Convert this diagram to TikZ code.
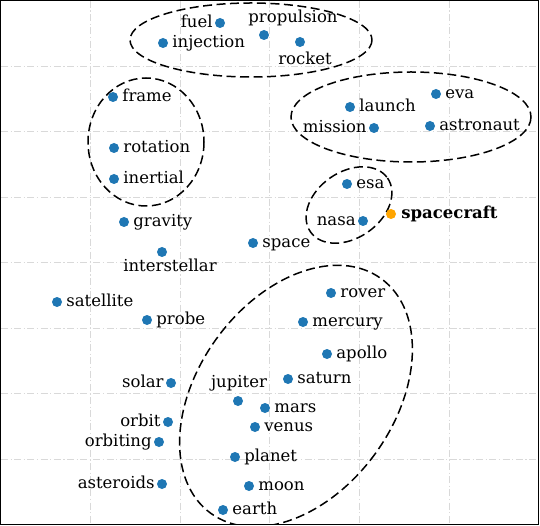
\documentclass[tikz,border=0pt]{standalone}
\usepackage{fontspec}
\setmainfont{DejaVu Serif}
\usepackage{tikz}
\usetikzlibrary{positioning}
\definecolor{tabblue}{HTML}{1F77B4}
\definecolor{taborange}{HTML}{FFA500}
\tikzstyle{dot} =
[circle, minimum size = 10pt, inner sep = 0pt, fill=tabblue]
\tikzstyle{query} =
[dot, fill=taborange]
\tikzstyle{word} =
[inner sep = 1pt, text height = 12.4pt, text depth = 3.9pt,
font = \fontsize{16.5}{19}\selectfont]
\tikzstyle{keyword} =
[word, font = \fontsize{16.5}{19}\selectfont\bfseries]
\tikzstyle{cluster} =
[draw=black, line width = 1.5pt, dash pattern = on 9pt off 4.5pt]
\tikzstyle{gridline} =
[draw=black!15, line width = 0.8pt, dash pattern = on 7pt off 2.5pt on 1.2pt off 2.5pt]
\tikzstyle{axesframe} = [draw=black, line width = 1.3pt]

\begin{document}
\begin{tikzpicture}[x = 1pt, y = -1pt, node distance = 3pt]
  \useasboundingbox (0,0) rectangle (540,526);
  % grid
  \foreach \gx in {90,180,269.5,359,449}
    \draw [gridline] (\gx,1) -- (\gx,525);
  \foreach \gy in {66,131.5,197,262.5,328,393.5,459}
    \draw [gridline] (1,\gy) -- (538,\gy);
  %
  % clusters
  \begin{scope}
    \clip (1,1) rectangle (538.5,524.8);
    \draw [cluster] (251,40) ellipse [x radius=121, y radius=37];
    \draw [cluster] (146,142) ellipse [x radius=58, y radius=64];
    \draw [cluster] (411,117) ellipse [x radius=120, y radius=45];
    \draw [cluster] (349,205) ellipse [x radius=47, y radius=33, rotate=35];
    \draw [cluster] (296,396) ellipse [x radius=98, y radius=145, rotate=-36];
  \end{scope}
  %
  % upper words
  \node [dot] (fuel) at (220,23) {};
  \node [dot] (propulsion) at (264,35) {};
  \node [dot] (injection) at (163,43) {};
  \node [dot] (rocket) at (300,42) {};
  \node [dot] (frame) at (113,97) {};
  \node [dot] (rotation) at (114,148) {};
  \node [dot] (inertial) at (114,179) {};
  \node [dot] (gravity) at (124,222) {};
  \node [dot] (interstellar) at (162,252) {};
  \node [dot] (space) at (253,243) {};
  \node [dot] (launch) at (350,107) {};
  \node [dot] (eva) at (436,94) {};
  \node [dot] (mission) at (374,128) {};
  \node [dot] (astronaut) at (430,126) {};
  \node [dot] (esa) at (347,184) {};
  \node [dot] (nasa) at (363,221) {};
  \node [query] (spacecraft) at (391,214) {};
  \node [word, left=1pt of fuel] (fueltxt) {fuel};
  \node [word] (propulsiontxt) at (293,18) {propulsion};
  \node [word, right=of injection] (injectiontxt) {injection};
  \node [word] (rockettxt) at (305,60) {rocket};
  \node [word, right=of frame] (frametxt) {frame};
  \node [word, right=of rotation] (rotationtxt) {rotation};
  \node [word, right=of inertial] (inertialtxt) {inertial};
  \node [word, right=of gravity] (gravitytxt) {gravity};
  \node [word] (interstellartxt) at (170,267) {interstellar};
  \node [word, right=of space] (spacetxt) {space};
  \node [word, right=of launch] (launchtxt) {launch};
  \node [word, right=of eva] (evatxt) {eva};
  \node [word, left=1pt of mission] (missiontxt) {mission};
  \node [word, right=of astronaut] (astronauttxt) {astronaut};
  \node [word, right=of esa] (esatxt) {esa};
  \node [word, left=1pt of nasa] (nasatxt) {nasa};
  \node [keyword, right=4pt of spacecraft] (spacecrafttxt) {spacecraft};
  %
  % lower words
  \node [dot] (satellite) at (57,302) {};
  \node [dot] (probe) at (147,320) {};
  \node [dot] (rover) at (331,293) {};
  \node [dot] (mercury) at (303,322) {};
  \node [dot] (apollo) at (327,354) {};
  \node [dot] (saturn) at (288,379) {};
  \node [dot] (solar) at (171,383) {};
  \node [dot] (jupiter) at (238,401) {};
  \node [dot] (mars) at (265,408) {};
  \node [dot] (orbit) at (168,422) {};
  \node [dot] (venus) at (255,427) {};
  \node [dot] (orbiting) at (159,442) {};
  \node [dot] (planet) at (235,457) {};
  \node [dot] (asteroids) at (162,484) {};
  \node [dot] (moon) at (249,486) {};
  \node [dot] (earth) at (223,510) {};
  \node [word, right=of satellite] (satellitetxt) {satellite};
  \node [word, right=of probe] (probetxt) {probe};
  \node [word, right=of rover] (rovertxt) {rover};
  \node [word, right=of mercury] (mercurytxt) {mercury};
  \node [word, right=of apollo] (apollotxt) {apollo};
  \node [word, right=of saturn] (saturntxt) {saturn};
  \node [word, left=1pt of solar] (solartxt) {solar};
  \node [word] (jupitertxt) at (239,383) {jupiter};
  \node [word, right=of mars] (marstxt) {mars};
  \node [word, left=1pt of orbit] (orbittxt) {orbit};
  \node [word, right=of venus] (venustxt) {venus};
  \node [word, left=1pt of orbiting] (orbitingtxt) {orbiting};
  \node [word, right=of planet] (planettxt) {planet};
  \node [word, left=1pt of asteroids] (asteroidstxt) {asteroids};
  \node [word, right=of moon] (moontxt) {moon};
  \node [word, right=of earth] (earthtxt) {earth};
  %
  % axes
  \draw [axesframe] (0.8,0.8) rectangle (538.5,524.8);
\end{tikzpicture}
\end{document}
